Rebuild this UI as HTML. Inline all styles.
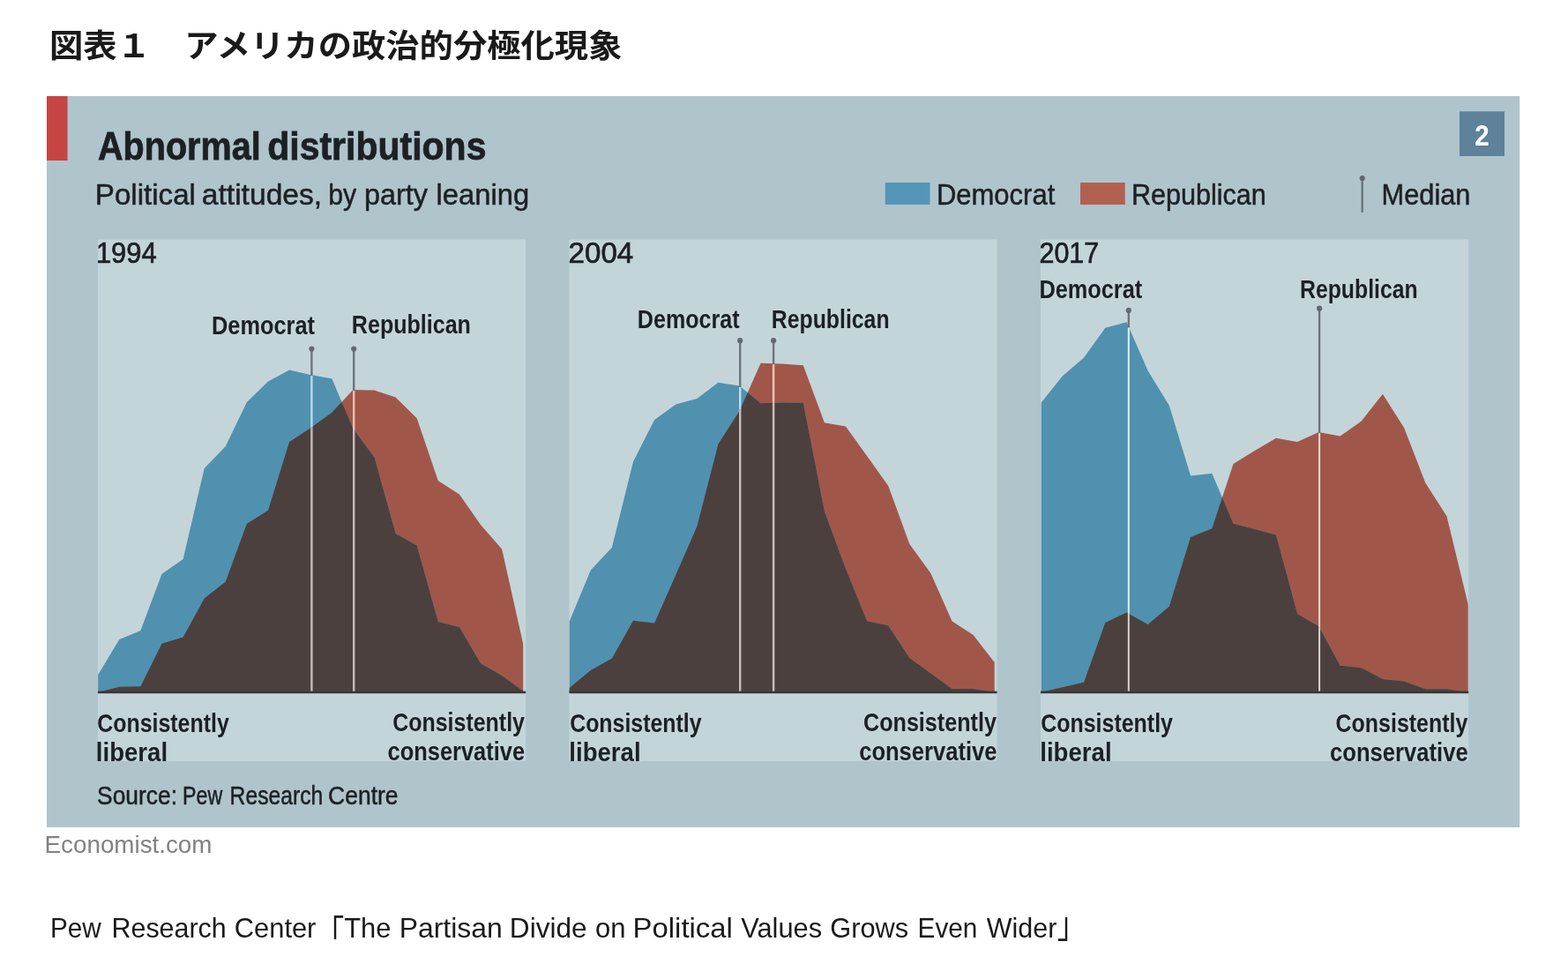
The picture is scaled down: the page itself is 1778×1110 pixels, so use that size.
<!DOCTYPE html>
<html lang="ja"><head><meta charset="utf-8"><title>図表１　アメリカの政治的分極化現象</title>
<style>html,body{margin:0;padding:0;background:#fff;}body{width:1778px;height:1110px;overflow:hidden;}svg{display:block;}text{font-family:'Liberation Sans', 'Noto Sans CJK JP', sans-serif;white-space:pre;}</style>
</head><body>
<svg width="1778" height="1110" viewBox="0 0 1778 1110">
<rect x="0" y="0" width="1778" height="1110" fill="#ffffff"/>
<rect x="53" y="109" width="1670.2" height="829" fill="#b0c4cc"/>
<rect x="53" y="109" width="23.5" height="73" fill="#c44542"/>
<rect x="1655" y="126.3" width="51" height="50.7" fill="#5d8299"/>
<rect x="1003.8" y="207" width="50.7" height="25" fill="#5595b8"/>
<rect x="1225" y="207" width="50.7" height="25" fill="#b26150"/>
<line x1="1544.7" y1="202" x2="1544.7" y2="240.8" stroke="#6b7277" stroke-width="2.3"/>
<circle cx="1544.7" cy="202" r="3.1" fill="#626a70"/>
<defs>
<clipPath id="cb0"><path d="M111.2,785.0L111.2,765.0L135.3,725.0L159.4,715.0L183.5,650.8L207.6,634.0L231.7,531.0L255.8,506.0L279.9,456.0L304.0,432.4L328.1,419.4L352.2,425.0L376.3,429.3L400.4,486.0L424.5,518.6L448.6,604.9L472.7,618.6L496.8,704.9L520.9,711.0L545.0,752.3L569.1,766.0L593.2,783.5L593.2,785.0Z"/></clipPath>
<clipPath id="cb1"><path d="M645.7,785.0L645.7,704.5L669.8,646.5L693.9,620.8L718.0,523.4L742.1,476.1L766.2,458.6L790.3,451.9L814.4,433.7L838.5,437.4L862.6,457.3L886.7,456.5L910.8,456.7L934.9,580.0L959.0,645.0L983.1,704.2L1007.2,709.2L1031.3,746.0L1055.4,763.5L1079.5,781.0L1103.6,781.0L1127.7,785.0L1127.7,785.0Z"/></clipPath>
<clipPath id="cb2"><path d="M1180.7,785.0L1180.7,456.5L1204.9,426.2L1229.1,405.5L1253.3,371.8L1277.5,365.2L1301.7,420.5L1325.9,460.0L1350.1,539.5L1374.3,536.7L1398.5,593.7L1422.7,600.0L1446.9,606.5L1471.1,696.1L1495.3,709.9L1519.5,754.6L1543.7,757.3L1567.9,769.9L1592.1,772.5L1616.3,781.2L1640.5,781.2L1664.7,785.0L1664.7,785.0Z"/></clipPath>
</defs>
<rect x="111.0" y="271.3" width="485.2" height="591.7" fill="#c3d5d9"/>
<path d="M111.2,785.0L111.2,785.0L135.3,778.8L159.4,778.3L183.5,729.7L207.6,722.5L231.7,678.5L255.8,659.5L279.9,593.7L304.0,578.7L328.1,500.9L352.2,485.3L376.3,467.8L400.4,442.0L424.5,442.4L448.6,450.6L472.7,474.3L496.8,545.0L520.9,560.6L545.0,594.9L569.1,622.4L593.2,730.0L593.2,785.0Z" fill="#a0574a"/>
<path d="M111.2,785.0L111.2,765.0L135.3,725.0L159.4,715.0L183.5,650.8L207.6,634.0L231.7,531.0L255.8,506.0L279.9,456.0L304.0,432.4L328.1,419.4L352.2,425.0L376.3,429.3L400.4,486.0L424.5,518.6L448.6,604.9L472.7,618.6L496.8,704.9L520.9,711.0L545.0,752.3L569.1,766.0L593.2,783.5L593.2,785.0Z" fill="#5091af"/>
<path d="M111.2,785.0L111.2,785.0L135.3,778.8L159.4,778.3L183.5,729.7L207.6,722.5L231.7,678.5L255.8,659.5L279.9,593.7L304.0,578.7L328.1,500.9L352.2,485.3L376.3,467.8L400.4,442.0L424.5,442.4L448.6,450.6L472.7,474.3L496.8,545.0L520.9,560.6L545.0,594.9L569.1,622.4L593.2,730.0L593.2,785.0Z" fill="#4b403e" clip-path="url(#cb0)"/>
<line x1="353.4" y1="395.6" x2="353.4" y2="426.2" stroke="#6b7277" stroke-width="2.3"/>
<line x1="353.4" y1="426.2" x2="353.4" y2="484.4" stroke="#b8dbec" stroke-width="2.4"/>
<line x1="353.4" y1="484.4" x2="353.4" y2="784.0" stroke="#c6bbb7" stroke-width="2.4"/>
<circle cx="353.4" cy="395.6" r="3.1" fill="#626a70"/>
<line x1="401.2" y1="395.6" x2="401.2" y2="443.0" stroke="#6b7277" stroke-width="2.3"/>
<line x1="401.2" y1="443.0" x2="401.2" y2="487.1" stroke="#f1bfae" stroke-width="2.4"/>
<line x1="401.2" y1="487.1" x2="401.2" y2="784.0" stroke="#c6bbb7" stroke-width="2.4"/>
<circle cx="401.2" cy="395.6" r="3.1" fill="#626a70"/>
<rect x="111.0" y="783.6" width="485.2" height="2.6" fill="#3d3536"/>
<rect x="645.5" y="271.3" width="485.1" height="591.7" fill="#c3d5d9"/>
<path d="M645.7,785.0L645.7,780.0L669.8,760.0L693.9,746.5L718.0,703.7L742.1,706.6L766.2,652.0L790.3,597.0L814.4,503.6L838.5,466.1L862.6,411.7L886.7,412.5L910.8,414.2L934.9,479.2L959.0,483.6L983.1,517.0L1007.2,550.8L1031.3,616.7L1055.4,650.0L1079.5,704.2L1103.6,720.0L1127.7,751.0L1127.7,785.0Z" fill="#a0574a"/>
<path d="M645.7,785.0L645.7,704.5L669.8,646.5L693.9,620.8L718.0,523.4L742.1,476.1L766.2,458.6L790.3,451.9L814.4,433.7L838.5,437.4L862.6,457.3L886.7,456.5L910.8,456.7L934.9,580.0L959.0,645.0L983.1,704.2L1007.2,709.2L1031.3,746.0L1055.4,763.5L1079.5,781.0L1103.6,781.0L1127.7,785.0L1127.7,785.0Z" fill="#5091af"/>
<path d="M645.7,785.0L645.7,780.0L669.8,760.0L693.9,746.5L718.0,703.7L742.1,706.6L766.2,652.0L790.3,597.0L814.4,503.6L838.5,466.1L862.6,411.7L886.7,412.5L910.8,414.2L934.9,479.2L959.0,483.6L983.1,517.0L1007.2,550.8L1031.3,616.7L1055.4,650.0L1079.5,704.2L1103.6,720.0L1127.7,751.0L1127.7,785.0Z" fill="#4b403e" clip-path="url(#cb1)"/>
<line x1="839.2" y1="386.2" x2="839.2" y2="439.0" stroke="#6b7277" stroke-width="2.3"/>
<line x1="839.2" y1="439.0" x2="839.2" y2="464.5" stroke="#bcdded" stroke-width="2.4"/>
<line x1="839.2" y1="464.5" x2="839.2" y2="784.0" stroke="#c8bdb9" stroke-width="2.4"/>
<circle cx="839.2" cy="386.2" r="3.1" fill="#626a70"/>
<line x1="877.1" y1="386.2" x2="877.1" y2="413.2" stroke="#6b7277" stroke-width="2.3"/>
<line x1="877.1" y1="413.2" x2="877.1" y2="456.8" stroke="#f3c6b6" stroke-width="2.4"/>
<line x1="877.1" y1="456.8" x2="877.1" y2="784.0" stroke="#c8bdb9" stroke-width="2.4"/>
<circle cx="877.1" cy="386.2" r="3.1" fill="#626a70"/>
<rect x="645.5" y="783.6" width="485.1" height="2.6" fill="#3d3536"/>
<rect x="1180.0" y="271.3" width="485.2" height="591.7" fill="#c3d5d9"/>
<path d="M1180.7,785.0L1180.7,784.8L1204.9,779.3L1229.1,773.5L1253.3,706.1L1277.5,694.4L1301.7,707.9L1325.9,687.4L1350.1,609.0L1374.3,599.3L1398.5,526.1L1422.7,511.1L1446.9,496.7L1471.1,501.1L1495.3,489.9L1519.5,494.6L1543.7,477.4L1567.9,446.8L1592.1,484.9L1616.3,547.4L1640.5,585.3L1664.7,685.0L1664.7,785.0Z" fill="#a0574a"/>
<path d="M1180.7,785.0L1180.7,456.5L1204.9,426.2L1229.1,405.5L1253.3,371.8L1277.5,365.2L1301.7,420.5L1325.9,460.0L1350.1,539.5L1374.3,536.7L1398.5,593.7L1422.7,600.0L1446.9,606.5L1471.1,696.1L1495.3,709.9L1519.5,754.6L1543.7,757.3L1567.9,769.9L1592.1,772.5L1616.3,781.2L1640.5,781.2L1664.7,785.0L1664.7,785.0Z" fill="#5091af"/>
<path d="M1180.7,785.0L1180.7,784.8L1204.9,779.3L1229.1,773.5L1253.3,706.1L1277.5,694.4L1301.7,707.9L1325.9,687.4L1350.1,609.0L1374.3,599.3L1398.5,526.1L1422.7,511.1L1446.9,496.7L1471.1,501.1L1495.3,489.9L1519.5,494.6L1543.7,477.4L1567.9,446.8L1592.1,484.9L1616.3,547.4L1640.5,585.3L1664.7,685.0L1664.7,785.0Z" fill="#4b403e" clip-path="url(#cb2)"/>
<line x1="1279.8" y1="351.9" x2="1279.8" y2="371.5" stroke="#6b7277" stroke-width="2.3"/>
<line x1="1279.8" y1="371.5" x2="1279.8" y2="695.7" stroke="#e2f0f7" stroke-width="2.0"/>
<line x1="1279.8" y1="695.7" x2="1279.8" y2="784.0" stroke="#dcd3d0" stroke-width="2.0"/>
<circle cx="1279.8" cy="351.9" r="3.1" fill="#626a70"/>
<line x1="1496.1" y1="349.7" x2="1496.1" y2="491.1" stroke="#6b7277" stroke-width="2.3"/>
<line x1="1496.1" y1="491.1" x2="1496.1" y2="711.4" stroke="#fadccf" stroke-width="2.0"/>
<line x1="1496.1" y1="711.4" x2="1496.1" y2="784.0" stroke="#dcd3d0" stroke-width="2.0"/>
<circle cx="1496.1" cy="349.7" r="3.1" fill="#626a70"/>
<rect x="1180.0" y="783.6" width="485.2" height="2.6" fill="#3d3536"/>
<text x="56" y="64.6" font-size="36" font-weight="700" fill="#1a1a1a" textLength="649.5" lengthAdjust="spacingAndGlyphs">図表１　アメリカの政治的分極化現象</text>
<text y="181.3" font-size="45" font-weight="700" fill="#1c2024" stroke="#1c2024" stroke-width="0.8"><tspan x="111.01" y="181.3" textLength="184.64" lengthAdjust="spacingAndGlyphs">Abnormal</tspan> <tspan x="303.26" y="181.3" textLength="248.19" lengthAdjust="spacingAndGlyphs">distributions</tspan></text>
<text y="232.0" font-size="33.6" font-weight="400" fill="#1c2024" stroke="#1c2024" stroke-width="0.5"><tspan x="107.85" y="232.0" textLength="114.13" lengthAdjust="spacingAndGlyphs">Political</tspan> <tspan x="228.79" y="232.0" textLength="136.37" lengthAdjust="spacingAndGlyphs">attitudes,</tspan> <tspan x="372.23" y="232.0" textLength="31.95" lengthAdjust="spacingAndGlyphs">by</tspan> <tspan x="412.89" y="232.0" textLength="72.01" lengthAdjust="spacingAndGlyphs">party</tspan> <tspan x="494.47" y="232.0" textLength="105.66" lengthAdjust="spacingAndGlyphs">leaning</tspan></text>
<text y="232.4" font-size="33.6" font-weight="400" fill="#1c2024" stroke="#1c2024" stroke-width="0.5"><tspan x="1061.92" y="232.4" textLength="134.38" lengthAdjust="spacingAndGlyphs">Democrat</tspan></text>
<text y="232.4" font-size="33.6" font-weight="400" fill="#1c2024" stroke="#1c2024" stroke-width="0.5"><tspan x="1282.96" y="232.4" textLength="152.88" lengthAdjust="spacingAndGlyphs">Republican</tspan></text>
<text y="231.9" font-size="34" font-weight="400" fill="#1c2024" stroke="#1c2024" stroke-width="0.5"><tspan x="1566.54" y="231.9" textLength="100.96" lengthAdjust="spacingAndGlyphs">Median</tspan></text>
<text y="164.6" font-size="33" font-weight="700" fill="#ffffff"><tspan x="1672.16" y="164.6" textLength="16.45" lengthAdjust="spacingAndGlyphs">2</tspan></text>
<text y="297.9" font-size="33" font-weight="400" fill="#1c2024" stroke="#1c2024" stroke-width="0.7"><tspan x="108.88" y="297.9" textLength="68.84" lengthAdjust="spacingAndGlyphs">1994</tspan></text>
<text y="297.9" font-size="33" font-weight="400" fill="#1c2024" stroke="#1c2024" stroke-width="0.7"><tspan x="644.64" y="297.9" textLength="73.64" lengthAdjust="spacingAndGlyphs">2004</tspan></text>
<text y="297.7" font-size="33" font-weight="400" fill="#1c2024" stroke="#1c2024" stroke-width="0.7"><tspan x="1178.48" y="297.7" textLength="67.73" lengthAdjust="spacingAndGlyphs">2017</tspan></text>
<text y="378.5" font-size="29.2" font-weight="700" fill="#1c2024"><tspan x="240.05" y="378.5" textLength="116.97" lengthAdjust="spacingAndGlyphs">Democrat</tspan></text>
<text y="378.3" font-size="29.2" font-weight="700" fill="#1c2024"><tspan x="398.87" y="378.3" textLength="135.02" lengthAdjust="spacingAndGlyphs">Republican</tspan></text>
<text y="371.5" font-size="29.2" font-weight="700" fill="#1c2024"><tspan x="722.87" y="371.5" textLength="115.65" lengthAdjust="spacingAndGlyphs">Democrat</tspan></text>
<text y="371.5" font-size="29.2" font-weight="700" fill="#1c2024"><tspan x="874.79" y="371.5" textLength="133.80" lengthAdjust="spacingAndGlyphs">Republican</tspan></text>
<text y="337.5" font-size="29.2" font-weight="700" fill="#1c2024"><tspan x="1178.45" y="337.5" textLength="116.77" lengthAdjust="spacingAndGlyphs">Democrat</tspan></text>
<text y="337.5" font-size="29.2" font-weight="700" fill="#1c2024"><tspan x="1473.99" y="337.5" textLength="133.69" lengthAdjust="spacingAndGlyphs">Republican</tspan></text>
<text y="829.9" font-size="29.2" font-weight="700" fill="#1c2024"><tspan x="110.20" y="829.9" textLength="149.55" lengthAdjust="spacingAndGlyphs">Consistently</tspan></text>
<text y="862.9" font-size="29.2" font-weight="700" fill="#1c2024"><tspan x="108.87" y="862.9" textLength="81.18" lengthAdjust="spacingAndGlyphs">liberal</tspan></text>
<text y="828.7" font-size="29.2" font-weight="700" fill="#1c2024"><tspan x="445.20" y="828.7" textLength="149.75" lengthAdjust="spacingAndGlyphs">Consistently</tspan></text>
<text y="861.8" font-size="29.2" font-weight="700" fill="#1c2024"><tspan x="439.58" y="861.8" textLength="155.50" lengthAdjust="spacingAndGlyphs">conservative</tspan></text>
<text y="829.9" font-size="29.2" font-weight="700" fill="#1c2024"><tspan x="646.20" y="829.9" textLength="149.35" lengthAdjust="spacingAndGlyphs">Consistently</tspan></text>
<text y="862.9" font-size="29.2" font-weight="700" fill="#1c2024"><tspan x="645.37" y="862.9" textLength="81.18" lengthAdjust="spacingAndGlyphs">liberal</tspan></text>
<text y="828.7" font-size="29.2" font-weight="700" fill="#1c2024"><tspan x="978.99" y="828.7" textLength="150.96" lengthAdjust="spacingAndGlyphs">Consistently</tspan></text>
<text y="862.1" font-size="29.2" font-weight="700" fill="#1c2024"><tspan x="974.18" y="862.1" textLength="156.31" lengthAdjust="spacingAndGlyphs">conservative</tspan></text>
<text y="829.9" font-size="29.2" font-weight="700" fill="#1c2024"><tspan x="1180.20" y="829.9" textLength="149.75" lengthAdjust="spacingAndGlyphs">Consistently</tspan></text>
<text y="862.9" font-size="29.2" font-weight="700" fill="#1c2024"><tspan x="1179.27" y="862.9" textLength="81.29" lengthAdjust="spacingAndGlyphs">liberal</tspan></text>
<text y="829.9" font-size="29.2" font-weight="700" fill="#1c2024"><tspan x="1514.60" y="829.9" textLength="149.75" lengthAdjust="spacingAndGlyphs">Consistently</tspan></text>
<text y="862.9" font-size="29.2" font-weight="700" fill="#1c2024"><tspan x="1507.97" y="862.9" textLength="156.72" lengthAdjust="spacingAndGlyphs">conservative</tspan></text>
<text y="912.4" font-size="29.3" font-weight="400" fill="#1c2024" stroke="#1c2024" stroke-width="0.5"><tspan x="110.11" y="912.4" textLength="90.90" lengthAdjust="spacingAndGlyphs">Source:</tspan> <tspan x="207.04" y="912.4" textLength="45.15" lengthAdjust="spacingAndGlyphs">Pew</tspan> <tspan x="260.62" y="912.4" textLength="105.68" lengthAdjust="spacingAndGlyphs">Research</tspan> <tspan x="372.08" y="912.4" textLength="79.45" lengthAdjust="spacingAndGlyphs">Centre</tspan></text>
<text y="966.6" font-size="27.8" font-weight="400" fill="#828282"><tspan x="50.58" y="966.6" textLength="189.84" lengthAdjust="spacingAndGlyphs">Economist.com</tspan></text>
<text y="1063.1" font-size="32" font-weight="400" fill="#1a1a1a"><tspan x="57.03" y="1063.1" textLength="57.74" lengthAdjust="spacingAndGlyphs">Pew</tspan> <tspan x="126.46" y="1063.1" textLength="130.31" lengthAdjust="spacingAndGlyphs">Research</tspan> <tspan x="265.76" y="1063.1" textLength="92.65" lengthAdjust="spacingAndGlyphs">Center</tspan><tspan x="357.4" y="1072.5" font-size="41" textLength="32.8" lengthAdjust="spacingAndGlyphs">「</tspan><tspan x="390.23" y="1063.1" textLength="53.21" lengthAdjust="spacingAndGlyphs">The</tspan> <tspan x="452.75" y="1063.1" textLength="116.98" lengthAdjust="spacingAndGlyphs">Partisan</tspan> <tspan x="577.87" y="1063.1" textLength="87.81" lengthAdjust="spacingAndGlyphs">Divide</tspan> <tspan x="675.06" y="1063.1" textLength="34.53" lengthAdjust="spacingAndGlyphs">on</tspan> <tspan x="717.57" y="1063.1" textLength="113.30" lengthAdjust="spacingAndGlyphs">Political</tspan> <tspan x="840.15" y="1063.1" textLength="91.94" lengthAdjust="spacingAndGlyphs">Values</tspan> <tspan x="941.36" y="1063.1" textLength="88.84" lengthAdjust="spacingAndGlyphs">Grows</tspan> <tspan x="1040.62" y="1063.1" textLength="67.79" lengthAdjust="spacingAndGlyphs">Even</tspan> <tspan x="1118.85" y="1063.1" textLength="79.55" lengthAdjust="spacingAndGlyphs">Wider</tspan><tspan x="1198.7" y="1063.1" font-size="41" textLength="32.8" lengthAdjust="spacingAndGlyphs">」</tspan></text>
</svg>
</body></html>
